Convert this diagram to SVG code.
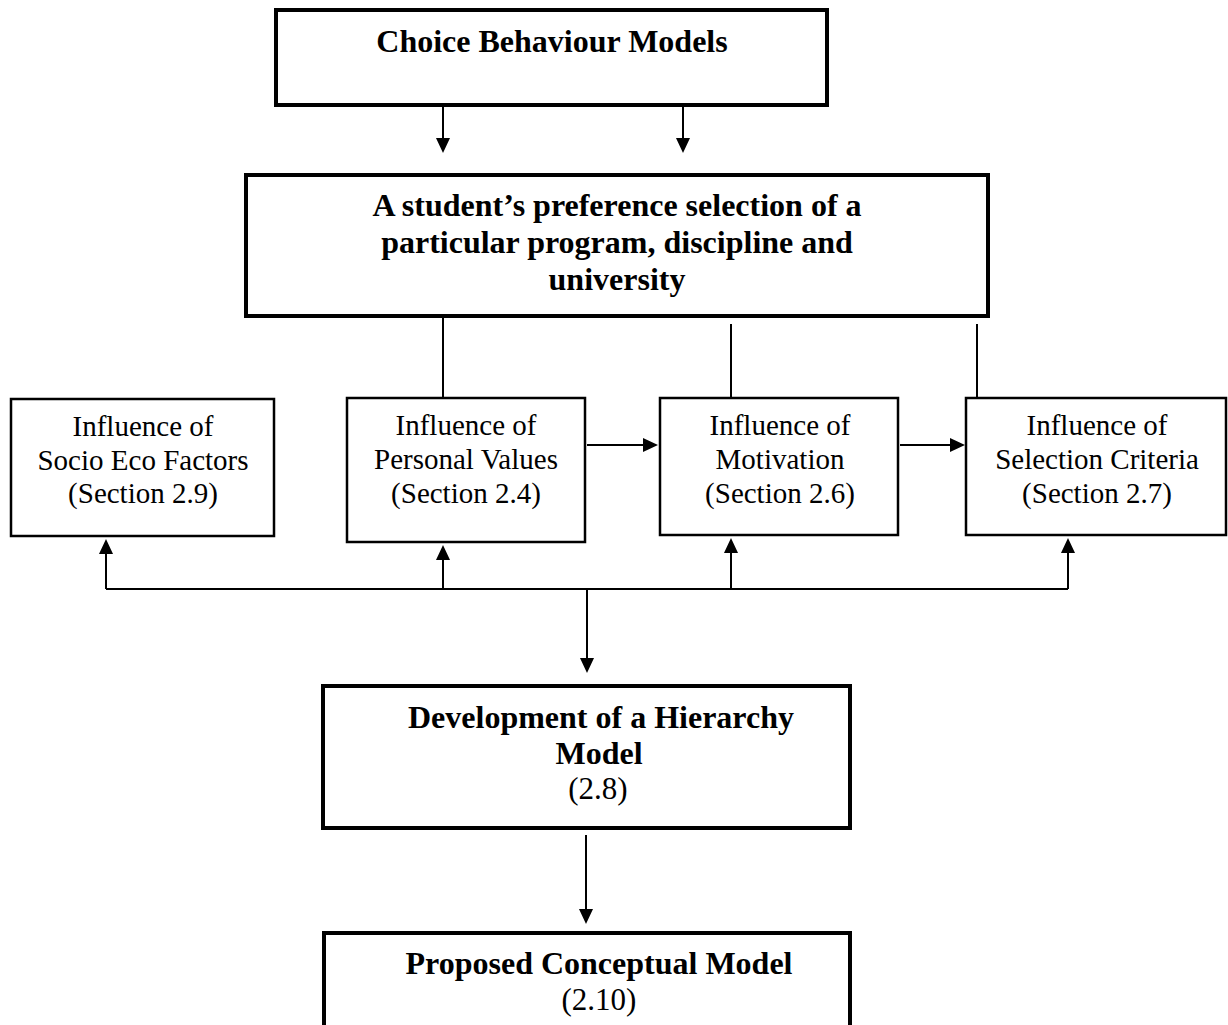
<svg xmlns="http://www.w3.org/2000/svg" width="1228" height="1025" viewBox="0 0 1228 1025">
<style>
.thick{fill:#fff;stroke:#000;stroke-width:4}
.thin{fill:#fff;stroke:#000;stroke-width:2.5}
.b{font-family:"Liberation Serif","Times New Roman",serif;font-weight:bold;font-size:32px;text-anchor:middle;fill:#000}
.r{font-family:"Liberation Serif","Times New Roman",serif;font-size:29px;text-anchor:middle;fill:#000}
.r2{font-family:"Liberation Serif","Times New Roman",serif;font-size:31px;text-anchor:middle;fill:#000}
.c{fill:none;stroke:#000;stroke-width:2}
</style>
<defs>
<marker id="ah" markerUnits="userSpaceOnUse" markerWidth="15" markerHeight="14" refX="12" refY="7" orient="auto">
<path d="M0,0 L15,7 L0,14 Z" fill="#000"/>
</marker>
</defs>
<rect width="1228" height="1025" fill="#fff"/>
<g id="connectors">
<line class="c" x1="443" y1="107" x2="443" y2="150" marker-end="url(#ah)"/>
<line class="c" x1="683" y1="107" x2="683" y2="150" marker-end="url(#ah)"/>
<line class="c" x1="443" y1="318" x2="443" y2="397"/>
<line class="c" x1="731" y1="324" x2="731" y2="397"/>
<line class="c" x1="977" y1="324" x2="977" y2="397"/>
<line class="c" x1="587" y1="445" x2="655" y2="445" marker-end="url(#ah)"/>
<line class="c" x1="900" y1="445" x2="962" y2="445" marker-end="url(#ah)"/>
<line class="c" x1="106" y1="589" x2="1068" y2="589"/>
<line class="c" x1="106" y1="589" x2="106" y2="542" marker-end="url(#ah)"/>
<line class="c" x1="443" y1="589" x2="443" y2="548" marker-end="url(#ah)"/>
<line class="c" x1="731" y1="589" x2="731" y2="541" marker-end="url(#ah)"/>
<line class="c" x1="1068" y1="589" x2="1068" y2="541" marker-end="url(#ah)"/>
<line class="c" x1="587" y1="589" x2="587" y2="670" marker-end="url(#ah)"/>
<line class="c" x1="586" y1="835" x2="586" y2="921" marker-end="url(#ah)"/>
</g>
<g id="choice">
<rect class="thick" x="276" y="10" width="551" height="95"/>
<text class="b" x="552" y="52">Choice Behaviour Models</text>
</g>
<g id="preference">
<rect class="thick" x="246" y="175" width="742" height="141"/>
<text class="b" x="617" y="216">A student’s preference selection of a</text>
<text class="b" x="617" y="253">particular program, discipline and</text>
<text class="b" x="617" y="290">university</text>
</g>
<g id="socio">
<rect class="thin" x="11" y="399" width="263" height="137"/>
<text class="r" x="143" y="436">Influence of</text>
<text class="r" x="143" y="470">Socio Eco Factors</text>
<text class="r" x="143" y="503">(Section 2.9)</text>
</g>
<g id="personal">
<rect class="thin" x="347" y="398" width="238" height="144"/>
<text class="r" x="466" y="435">Influence of</text>
<text class="r" x="466" y="469">Personal Values</text>
<text class="r" x="466" y="503">(Section 2.4)</text>
</g>
<g id="motivation">
<rect class="thin" x="660" y="398" width="238" height="137"/>
<text class="r" x="780" y="435">Influence of</text>
<text class="r" x="780" y="469">Motivation</text>
<text class="r" x="780" y="503">(Section 2.6)</text>
</g>
<g id="selection">
<rect class="thin" x="966" y="398" width="260" height="137"/>
<text class="r" x="1097" y="435">Influence of</text>
<text class="r" x="1097" y="469">Selection Criteria</text>
<text class="r" x="1097" y="503">(Section 2.7)</text>
</g>
<g id="hierarchy">
<rect class="thick" x="323" y="686" width="527" height="142"/>
<text class="b" x="601" y="728">Development of a Hierarchy</text>
<text class="b" x="599" y="764">Model</text>
<text class="r2" x="598" y="799">(2.8)</text>
</g>
<g id="proposed">
<rect class="thick" x="324" y="933" width="526" height="200"/>
<text class="b" x="599" y="974">Proposed Conceptual Model</text>
<text class="r2" x="599" y="1010">(2.10)</text>
</g>
</svg>
